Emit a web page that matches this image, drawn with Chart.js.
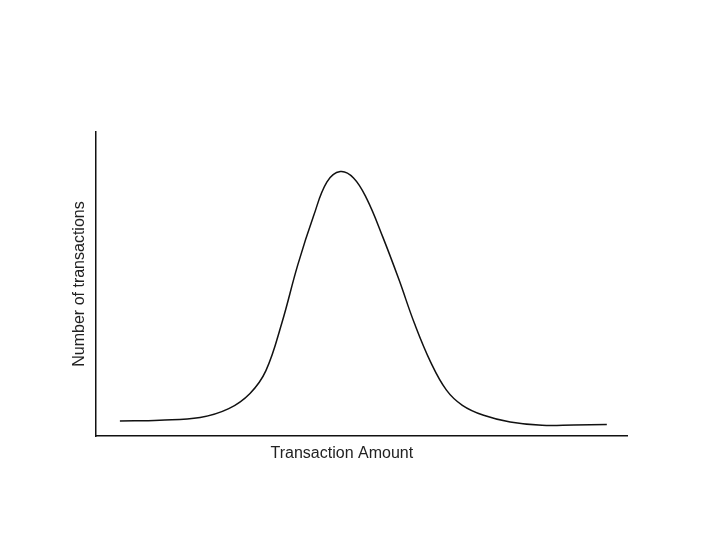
<!DOCTYPE html>
<html>
<head>
<meta charset="utf-8">
<script src="https://cdn.jsdelivr.net/npm/chart.js@4.4.0/dist/chart.umd.min.js"></script>
<style>
  html, body { margin: 0; padding: 0; background: #fff; }
  #wrap { width: 720px; height: 540px; }
</style>
</head>
<body>
<div id="wrap"><canvas id="bellChart" width="720" height="540"></canvas></div>
<script>
// transaction amount (arbitrary units) and number of transactions
const amounts = [4.5, 12, 19.6, 25, 29, 32, 35, 38, 41, 43.5, 46, 48.5, 51, 54, 57, 60, 63, 66,
  69, 73, 78, 84, 90, 96.2];
const counts = [4.9, 5.2, 6.1, 9.0, 14.0, 21.5, 37.2, 56.3, 72.5, 83.6, 87.0, 84.9, 78.0, 65.5,
  51.7, 36.9, 24.4, 15.1, 10.1, 6.8, 4.6, 3.5, 3.6, 3.8];

const xTitle = "Transaction Amount";
const yTitle = "Number of transactions";
const xTitleAt = 46.3; // x title sits under the peak in the original, not mid-axis

Chart.defaults.font.family = "'Liberation Sans', Arial, sans-serif";
Chart.defaults.font.size = 16;
Chart.defaults.color = "#222";

const points = amounts.map((a, i) => ({ x: a, y: counts[i] }));

// x axis title, drawn under the x scale at a value position
const xTitlePlugin = {
  id: "xTitle",
  afterDraw(chart, args, options) {
    const { ctx, scales: { x }, chartArea } = chart;
    ctx.save();
    ctx.font = `${options.fontSize}px ${Chart.defaults.font.family}`;
    ctx.fillStyle = options.color;
    ctx.textAlign = "center";
    ctx.textBaseline = "middle";
    ctx.fillText(options.text, x.getPixelForValue(options.at), chartArea.bottom + options.offset);
    ctx.restore();
  },
};

new Chart(document.getElementById("bellChart").getContext("2d"), {
  type: "line",
  plugins: [xTitlePlugin],
  data: {
    datasets: [
      {
        label: "Transactions",
        data: points,
        borderColor: "#111",
        borderWidth: 1.5,
        pointRadius: 0,
        tension: 0.4,
        fill: false,
      },
    ],
  },
  options: {
    responsive: false,
    animation: false,
    layout: {
      padding: { left: 66, top: 132, right: 93, bottom: 104 },
    },
    plugins: {
      legend: { display: false },
      tooltip: { enabled: false },
      xTitle: { text: xTitle, at: xTitleAt, offset: 18, fontSize: 16, color: "#222" },
    },
    scales: {
      x: {
        type: "linear",
        min: 0,
        max: 100,
        grid: { display: false, drawTicks: false },
        ticks: { display: false },
        border: { display: true, color: "#111", width: 1.5 },
      },
      y: {
        min: 0,
        max: 100,
        grid: { display: false, drawTicks: false },
        ticks: { display: false },
        border: { display: true, color: "#111", width: 1.5 },
        title: {
          display: true,
          text: yTitle,
          color: "#222",
          padding: { top: 4, bottom: 6.8 },
        },
      },
    },
  },
});
</script>
</body>
</html>
